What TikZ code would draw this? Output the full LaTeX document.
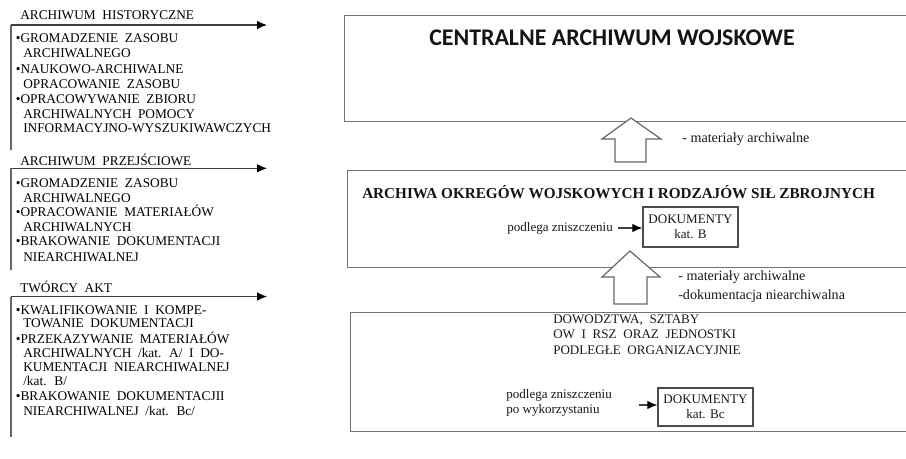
\documentclass[tikz,border=0pt]{standalone}
\usepackage{fontspec}
\setmainfont{Liberation Serif}
\newfontfamily\carlito{Carlito}
\usetikzlibrary{arrows.meta}
\newcommand\lft{\fontsize{10pt}{11.4pt}\selectfont\spaceskip=5pt plus 1pt\relax}
\newcommand\dowf{\fontsize{9.8pt}{11.6pt}\selectfont}
\newcommand\wsp{\spaceskip=5pt plus 1pt\relax}
\newcommand\lbf{\fontsize{10.6pt}{12pt}\selectfont}
\newcommand\pzf{\fontsize{9.8pt}{11.2pt}\selectfont}
\newcommand\bul{\makebox[3.6pt][l]{\textbullet}}
\begin{document}
\begin{tikzpicture}[x=0.75pt,y=-0.75pt,
  txt/.style={anchor=base west, yshift=-3.2pt, inner sep=0pt, text=black, font=\lft},
  lbl/.style={anchor=base west, yshift=-2.5pt, inner sep=0pt, text=black!90, font=\lbf},
  pz/.style={anchor=west, inner sep=0pt, text=black!90, font=\pzf, align=left},
  bigbox/.style={draw=black!55, line width=1.1pt, anchor=north west, inner sep=0pt},
  docbox/.style={draw=black!70, line width=1pt, align=center, inner sep=0pt,
    minimum width=71.25pt, text=black!90, font=\fontsize{9.8pt}{11.25pt}\selectfont},
  flow/.style={draw=black!75, line width=0.9pt, -{Latex[length=7.5pt,width=6.5pt,color=black]}},
  vline/.style={draw=black!60, line width=1pt},
  blockarrow/.style={draw=black!60, line width=0.9pt, fill=white, line join=miter}
]
\useasboundingbox (0,0) rectangle (906,458);
\fill[white] (0,0) rectangle (906,458);
\clip (0,0) rectangle (906,458);

% big boxes
\node[bigbox, minimum width=439.5pt, minimum height=79.5pt] (cen) at (344,15) {};
\node[bigbox, minimum width=437.25pt, minimum height=72.4pt] (okr) at (347,170) {};
\node[bigbox, minimum width=435pt, minimum height=89.25pt] (dow) at (350,312) {};

% titles
\node[anchor=west, inner sep=0pt, font=\carlito\bfseries\fontsize{17.9pt}{20pt}\selectfont, text=black!92] (tcen) at (429,38) {CENTRALNE ARCHIWUM WOJSKOWE};
\node[anchor=west, inner sep=0pt, font=\bfseries\fontsize{11.4pt}{13pt}\selectfont, text=black!92] (tokr) at (362,192) {ARCHIWA OKREGÓW WOJSKOWYCH I RODZAJÓW SIŁ ZBROJNYCH};
\node[anchor=west, inner sep=0pt, text=black!90, align=left, font=\dowf] (tdow) at (553,334.5) {\wsp DOWODZTWA, SZTABY\\\wsp OW I RSZ ORAZ JEDNOSTKI\\\wsp PODLEGŁE ORGANIZACYJNIE};

% block arrows
\coordinate (ba1) at (631,118);
\coordinate (ba2) at (630,251);
\draw[blockarrow] (ba1) -- ++(30,21) -- ++(-15,0) -- ++(0,23) -- ++(-31,0) -- ++(0,-23) -- ++(-13,0) -- cycle;
\draw[blockarrow] (ba2) -- ++(30,26) -- ++(-13,0) -- ++(0,27) -- ++(-33,0) -- ++(0,-27) -- ++(-12,0) -- cycle;
\node[lbl] (m1) at (682,139) {- materiały archiwalne};
\node[lbl] (m2) at (678,277) {- materiały archiwalne};
\node[lbl] (m3) at (678,296) {-dokumentacja niearchiwalna};

% document boxes
\node[docbox, minimum height=30pt] (dokB) at (690.5,227) {DOKUMENTY\\kat. B};
\node[docbox, minimum height=28.5pt] (dokBc) at (705.5,407) {DOKUMENTY\\kat. Bc};
\node[pz] (pz1) at (507,228) {podlega zniszczeniu};
\node[pz] (pz2) at (506,402.5) {podlega zniszczeniu\\po wykorzystaniu};
\coordinate (a1) at (618,228);
\coordinate (a2) at (639,405);
\draw[flow] (a1) -- (dokB.west |- a1);
\draw[flow] (a2) -- (dokBc.west |- a2);

% left group 1
\coordinate (g1s) at (11,25); \coordinate (g1e) at (267,25); \coordinate (g1b) at (11,150);
\draw[vline] (g1s) -- (g1b);
\draw[flow] (g1s) -- (g1e);
\node[txt] (h1) at (20,15) {ARCHIWUM HISTORYCZNE};
\node[txt] (l11) at (15.5,38.3) {\bul GROMADZENIE ZASOBU};
\node[txt] (l12) at (23,53.3) {ARCHIWALNEGO};
\node[txt] (l13) at (15.5,69) {\bul NAUKOWO-ARCHIWALNE};
\node[txt] (l14) at (23,84) {OPRACOWANIE ZASOBU};
\node[txt] (l15) at (15.5,99.3) {\bul OPRACOWYWANIE ZBIORU};
\node[txt] (l16) at (23,114.3) {ARCHIWALNYCH POMOCY};
\node[txt] (l17) at (23,128.3) {INFORMACYJNO-WYSZUKIWAWCZYCH};

% left group 2
\coordinate (g2s) at (11,168.3); \coordinate (g2e) at (267,168.3); \coordinate (g2b) at (11,270);
\draw[vline] (g2s) -- (g2b);
\draw[flow] (g2s) -- (g2e);
\node[txt] (h2) at (20,161) {ARCHIWUM PRZEJŚCIOWE};
\node[txt] (l21) at (15.5,183.3) {\bul GROMADZENIE ZASOBU};
\node[txt] (l22) at (23,198.3) {ARCHIWALNEGO};
\node[txt] (l23) at (15.5,212.5) {\bul OPRACOWANIE MATERIAŁÓW};
\node[txt] (l24) at (23,227.3) {ARCHIWALNYCH};
\node[txt] (l25) at (15.5,241.7) {\bul BRAKOWANIE DOKUMENTACJI};
\node[txt] (l26) at (23,257.3) {NIEARCHIWALNEJ};

% left group 3
\coordinate (g3s) at (11,296.5); \coordinate (g3e) at (267,296.5); \coordinate (g3b) at (11,437);
\draw[vline] (g3s) -- (g3b);
\draw[flow] (g3s) -- (g3e);
\node[txt] (h3) at (20,288.3) {TWÓRCY AKT};
\node[txt] (l31) at (15.5,310) {\bul KWALIFIKOWANIE I KOMPE-};
\node[txt] (l32) at (23,323.5) {TOWANIE DOKUMENTACJI};
\node[txt] (l33) at (15.5,338.8) {\bul PRZEKAZYWANIE MATERIAŁÓW};
\node[txt] (l34) at (23,353) {ARCHIWALNYCH /kat. A/ I DO-};
\node[txt] (l35) at (23,367.7) {KUMENTACJI NIEARCHIWALNEJ};
\node[txt] (l36) at (23,381.7) {/kat. B/};
\node[txt] (l37) at (15.5,396.7) {\bul BRAKOWANIE DOKUMENTACJII};
\node[txt] (l38) at (23,410.8) {NIEARCHIWALNEJ /kat. Bc/};
\end{tikzpicture}
\end{document}
